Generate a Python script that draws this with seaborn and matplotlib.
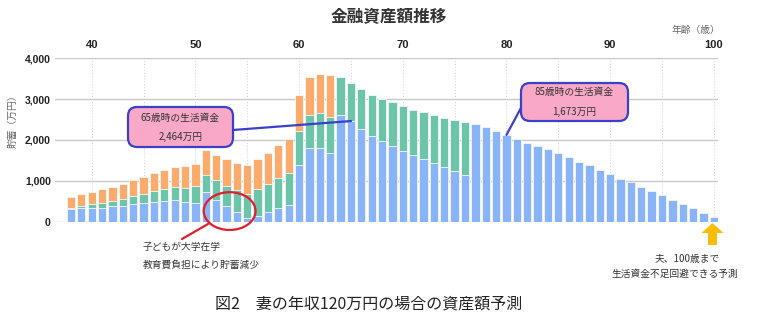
import matplotlib
matplotlib.use("Agg")
import matplotlib.pyplot as plt
from matplotlib.patches import FancyBboxPatch, Ellipse, Polygon, ConnectionPatch
import pandas as pd
import seaborn as sns

# ---- data (万円, by age) ----
ages = list(range(38, 101))
blue_part = [314, 330, 339, 347, 380, 388, 430, 454, 487, 504, 529, 487, 470,
             723, 533, 384, 236, 87, 150, 244, 335, 409,
             1397, 1805, 1805, 1685,
             2615, 2464, 2270, 2105, 1984, 1861, 1738, 1631, 1533, 1426, 1336, 1238, 1148,
             2390, 2318, 2210, 2125, 2029, 1938, 1855, 1773, 1673, 1583, 1467, 1376,
             1260, 1169, 1054, 963, 847, 756, 649, 533, 425, 326, 219, 120]
green_part = [33, 58, 91, 116, 124, 157, 190, 232, 256, 289, 330, 347, 396,
              422, 479, 496, 545, 587, 647, 677, 727, 785,
              819, 815, 865, 890,
              926, 921, 976, 1005, 1024, 1065, 1090, 1115, 1156, 1189, 1213, 1262, 1303] + [0] * 24
orange_part = [256, 281, 297, 330, 355, 372, 404, 413, 447, 479, 487, 537, 557,
               603, 612, 661, 661, 702, 744, 769, 810, 827,
               884, 930, 950, 1005] + [0] * 37
x_ticks = list(range(40, 101, 5))
x_tick_labels = ["40", "", "50", "", "60", "", "70", "", "80", "", "90", "", "100"]
y_ticks = [0, 1000, 2000, 3000, 4000]
y_tick_labels = ["0", "1,000", "2,000", "3,000", "4,000"]

BLUE = "#8ab4f8"
GREEN = "#6cc4a9"
ORANGE = "#fdab6b"
PINK = "#f9a9c7"
NAVY = "#3b40c6"
RED = "#e21d2b"
YELLOW = "#fbbc04"

sns.set_style("white")
plt.rcParams["font.family"] = ["Noto Sans CJK JP", "DejaVu Sans"]

W, H = 760, 327
fig = plt.figure(figsize=(W / 100, H / 100), dpi=100)
ax = fig.add_axes([55 / W, 1 - 221.7 / H, (718 - 55) / W, (221.7 - 58.3) / H])

df = pd.DataFrame({"age": ages, "blue": blue_part, "green": green_part, "orange": orange_part})
df["lvl1"] = df["blue"]
df["lvl2"] = df["lvl1"] + df["green"]
df["lvl3"] = df["lvl2"] + df["orange"]

# stacked bars: draw cumulative totals from the top layer down
for col, colr in [("lvl3", ORANGE), ("lvl2", GREEN), ("lvl1", BLUE)]:
    sns.barplot(data=df, x="age", y=col, native_scale=True, color=colr,
                saturation=1, errorbar=None, width=0.8,
                edgecolor="#f4f8ff", linewidth=0.6, ax=ax)

ax.set_xlim(36.46, 100.4)
ax.set_ylim(0, 4000)
ax.set_xlabel("")
ax.set_ylabel("")
for s in ax.spines.values():
    s.set_visible(False)
ax.xaxis.tick_top()
ax.set_xticks(x_ticks)
ax.set_xticklabels(x_tick_labels)
ax.set_yticks(y_ticks)
ax.set_yticklabels(y_tick_labels)
ax.tick_params(axis="x", length=0, pad=6, labelsize=8, labelcolor="#222222")
ax.tick_params(axis="y", length=0, pad=3, labelsize=7.5, labelcolor="#222222")
for lbl in ax.get_xticklabels() + ax.get_yticklabels():
    lbl.set_fontfamily("Liberation Sans")
    lbl.set_fontweight("bold")
ax.grid(axis="y", color="#c9c9c9", lw=1.0, ls="-")
ax.grid(axis="x", color="#cccccc", lw=0.7, ls=(0, (1, 2)))
ax.set_axisbelow(True)

# red ellipse marking the dip while the child is at university
ax.add_patch(Ellipse((53.3, 260), 5.0, 925, fill=False, ec=RED, lw=1.6,
                     clip_on=False, zorder=6))

# overlay in pixel units for labels and callouts
ov = fig.add_axes([0, 0, 1, 1], zorder=5)
ov.set_xlim(0, W)
ov.set_ylim(H, 0)
ov.axis("off")
ov.patch.set_alpha(0)

ov.text(389, 17, "金融資産額推移", ha="center", va="center", fontsize=12,
        fontweight="bold", color="#333333")
ov.text(696, 30, "年齢（歳）", ha="center", va="center", fontsize=7, color="#666666")
ov.text(13, 119, "貯蓄（万円）", ha="center", va="center", fontsize=7,
        color="#666666", rotation=90)

# callout boxes
for (x0, y0, w, h), line1, line2 in [((128, 107, 105, 40), "65歳時の生活資金", "2,464万円"),
                                      ((521, 83, 107, 38), "85歳時の生活資金", "1,673万円")]:
    ov.add_patch(FancyBboxPatch((x0, y0), w, h, boxstyle="round,pad=0,rounding_size=9",
                                fc=PINK, ec=NAVY, lw=1.6, zorder=3))
    cx, cy = x0 + w / 2, y0 + h / 2
    ov.text(cx, cy - 9.5, line1, ha="center", va="center", fontsize=7, color="#333333", zorder=4)
    ov.text(cx, cy + 9.5, line2, ha="center", va="center", fontsize=7, color="#333333", zorder=4)

i65 = ages.index(65)
i80 = ages.index(80)
ov.add_artist(ConnectionPatch(xyA=(233, 130), coordsA=ov.transData,
                              xyB=(65, df["lvl1"][i65]), coordsB=ax.transData,
                              color=NAVY, lw=1.6, zorder=2))
ov.add_artist(ConnectionPatch(xyA=(522, 106), coordsA=ov.transData,
                              xyB=(80, df["lvl3"][i80]), coordsB=ax.transData,
                              color=NAVY, lw=1.6, zorder=2))

# note under the ellipse
ov.plot([182, 208], [239, 224], color=RED, lw=1.6)
ov.text(143, 247, "子どもが大学在学", ha="left", va="center", fontsize=7, color="#333333")
ov.text(143, 265, "教育費負担により貯蓄減少", ha="left", va="center", fontsize=7, color="#333333")

# yellow arrow under the last bar
ov.add_patch(Polygon([(712.5, 223), (723.5, 233), (717, 233), (717, 245),
                      (708, 245), (708, 233), (701.5, 233)], closed=True,
                     fc=YELLOW, ec="none"))
ov.text(687, 259, "夫、100歳まで", ha="center", va="center", fontsize=7, color="#333333")
ov.text(675, 274, "生活資金不足回避できる予測", ha="center", va="center", fontsize=7, color="#333333")

ov.text(369, 304, "図2　妻の年収120万円の場合の資産額予測", ha="center", va="center",
        fontsize=11.5, color="#222222")

fig.savefig("out.png", dpi=100)
